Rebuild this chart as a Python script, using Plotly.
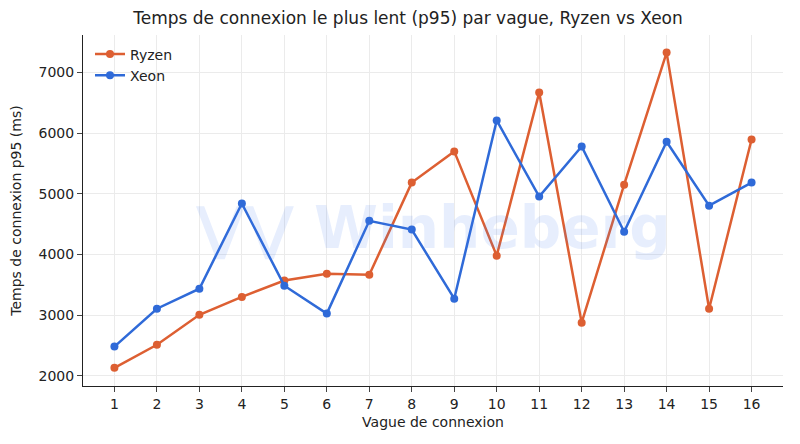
import plotly.graph_objects as go

vagues = list(range(1, 17))
ryzen = [2130, 2510, 3005, 3300, 3570, 3680, 3665, 5185, 5700, 3980, 6670, 2875, 5150, 7330, 3105, 5895]
xeon = [2480, 3105, 3435, 4840, 3485, 3025, 4555, 4410, 3270, 6210, 4955, 5780, 4375, 5860, 4805, 5185]

fig = go.Figure()
fig.add_trace(go.Scatter(x=vagues, y=ryzen, name="Ryzen", mode="lines+markers",
                         line=dict(color="#dd5f32", width=2.5), marker=dict(size=8)))
fig.add_trace(go.Scatter(x=vagues, y=xeon, name="Xeon", mode="lines+markers",
                         line=dict(color="#2f6ad8", width=2.5), marker=dict(size=8)))

# filigrane
fig.add_annotation(text="<b>⋁⋁ Winheberg</b>", x=0.5, y=0.45, xref="paper", yref="paper",
                   showarrow=False, font=dict(size=58, color="rgba(70,120,240,0.13)", family="DejaVu Sans"))

fig.update_layout(
    width=800, height=444,
    margin=dict(l=75, r=25, t=27, b=66),
    paper_bgcolor="white", plot_bgcolor="white",
    font=dict(family="DejaVu Sans", size=14, color="#222"),
    title=dict(text="Temps de connexion le plus lent (p95) par vague, Ryzen vs Xeon",
               x=0.5, xanchor="center", y=0.99, yanchor="top", font=dict(size=17)),
    legend=dict(x=0.01, y=0.99, bgcolor="rgba(255,255,255,0)", font=dict(size=14)),
    xaxis=dict(title=dict(text="Vague de connexion", standoff=6, font=dict(size=14)), tickmode="array",
               tickvals=vagues, tickfont=dict(size=14), automargin=False,
               range=[0.26, 16.74], showline=True, linecolor="#222", ticks="outside",
               showgrid=True, gridcolor="#ebebeb", zeroline=False),
    yaxis=dict(title=dict(text="Temps de connexion p95 (ms)", font=dict(size=14)), range=[1830, 7620],
               tickvals=[2000, 3000, 4000, 5000, 6000, 7000], tickfont=dict(size=14), showline=True,
               automargin=False,
               linecolor="#222", ticks="outside", showgrid=True, gridcolor="#ebebeb", zeroline=False),
)

fig.write_html("out.html")
